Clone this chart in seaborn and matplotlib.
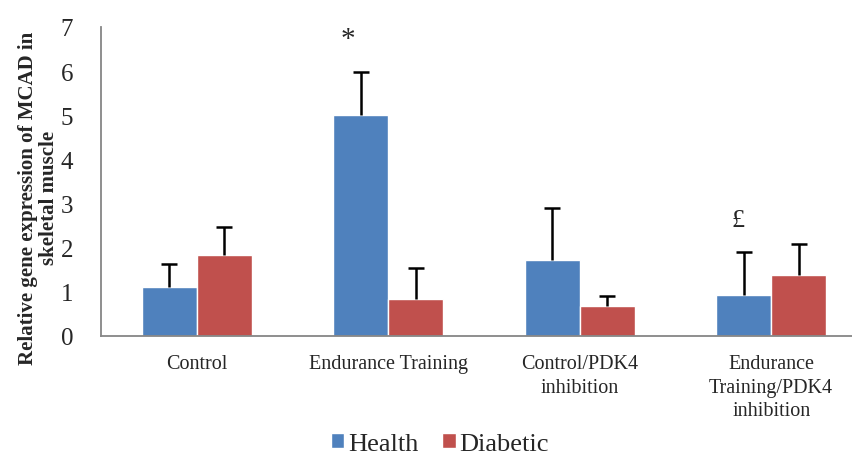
import matplotlib
matplotlib.use("Agg")
import matplotlib.pyplot as plt
import seaborn as sns
import pandas as pd
import numpy as np

categories = ["Control", "Endurance Training", "Control/PDK4\ninhibition",
              "Endurance\nTraining/PDK4\ninhibition"]
groups = ["Health", "Diabetic"]
health = [1.11, 5.00, 1.72, 0.93]
diabetic = [1.84, 0.83, 0.68, 1.38]
health_err = [0.51, 0.99, 1.18, 0.97]
diabetic_err = [0.63, 0.71, 0.23, 0.71]
yticks = [0, 1, 2, 3, 4, 5, 6, 7]
colors = ["#4F81BD", "#C0504D"]

df = pd.DataFrame({
    "category": categories * 2,
    "group": [groups[0]] * 4 + [groups[1]] * 4,
    "value": health + diabetic,
    "err": health_err + diabetic_err,
})

sns.set_style("white")
plt.rcParams["font.family"] = ["Liberation Serif", "DejaVu Serif"]

fig = plt.figure(figsize=(8.53, 4.56), dpi=100)
ax = fig.add_axes([0.1184, 0.261, 0.898, 0.6776])
sns.barplot(data=df, x="category", y="value", hue="group", order=categories,
            hue_order=groups, palette=colors, width=0.575, errorbar=None,
            saturation=1, ax=ax, legend=True)

# error bars (upward only)
for gi, g in enumerate(groups):
    cont = ax.containers[gi]
    sub = df[df.group == g].set_index("category").loc[categories]
    xs = [p.get_x() + p.get_width() / 2 for p in cont.patches]
    _, caps, _ = ax.errorbar(xs, sub["value"].values,
                             yerr=[np.zeros(len(xs)), sub["err"].values],
                             fmt="none", ecolor="black", elinewidth=1.8,
                             capsize=5.5, capthick=1.8)
    caps[0].set_visible(False)

# significance marks
hp = ax.containers[0].patches
ax.text(hp[1].get_x() + hp[1].get_width() / 2 - 0.065, 6.72, "*", ha="center",
        va="center", fontsize=21)
ax.text(hp[3].get_x() + hp[3].get_width() / 2 - 0.03, 2.63, "£", ha="center",
        va="center", fontsize=19)

ax.set_xlim(-0.5, 3.5)
ax.set_ylim(0, 7)
ax.set_yticks(yticks)
ax.set_yticklabels([str(t) for t in yticks], fontsize=18)
ax.tick_params(axis="both", length=0)
ax.tick_params(axis="y", pad=20)
ax.tick_params(axis="x", pad=13, labelsize=14.5)
for lab in ax.get_xticklabels():
    lab.set_linespacing(1.32)
ax.set_xlabel("")
ax.set_ylabel("Relative gene expression of MCAD in\nskeletal muscle",
              fontsize=15, fontweight="bold", linespacing=1.05)
ax.yaxis.set_label_coords(-0.055, 0.45)
for s in ["top", "right"]:
    ax.spines[s].set_visible(False)
for s in ["left", "bottom"]:
    ax.spines[s].set_color("#868686")
    ax.spines[s].set_linewidth(1.3)

handles, labels = ax.get_legend_handles_labels()
ax.get_legend().remove()
fig.legend(handles, labels, loc="center", bbox_to_anchor=(440 / 853, 1 - 445 / 456),
           ncol=2, frameon=False, fontsize=19, handlelength=0.5, handleheight=0.5,
           handletextpad=0.15, columnspacing=0.9)

fig.savefig("out.png", dpi=100)
